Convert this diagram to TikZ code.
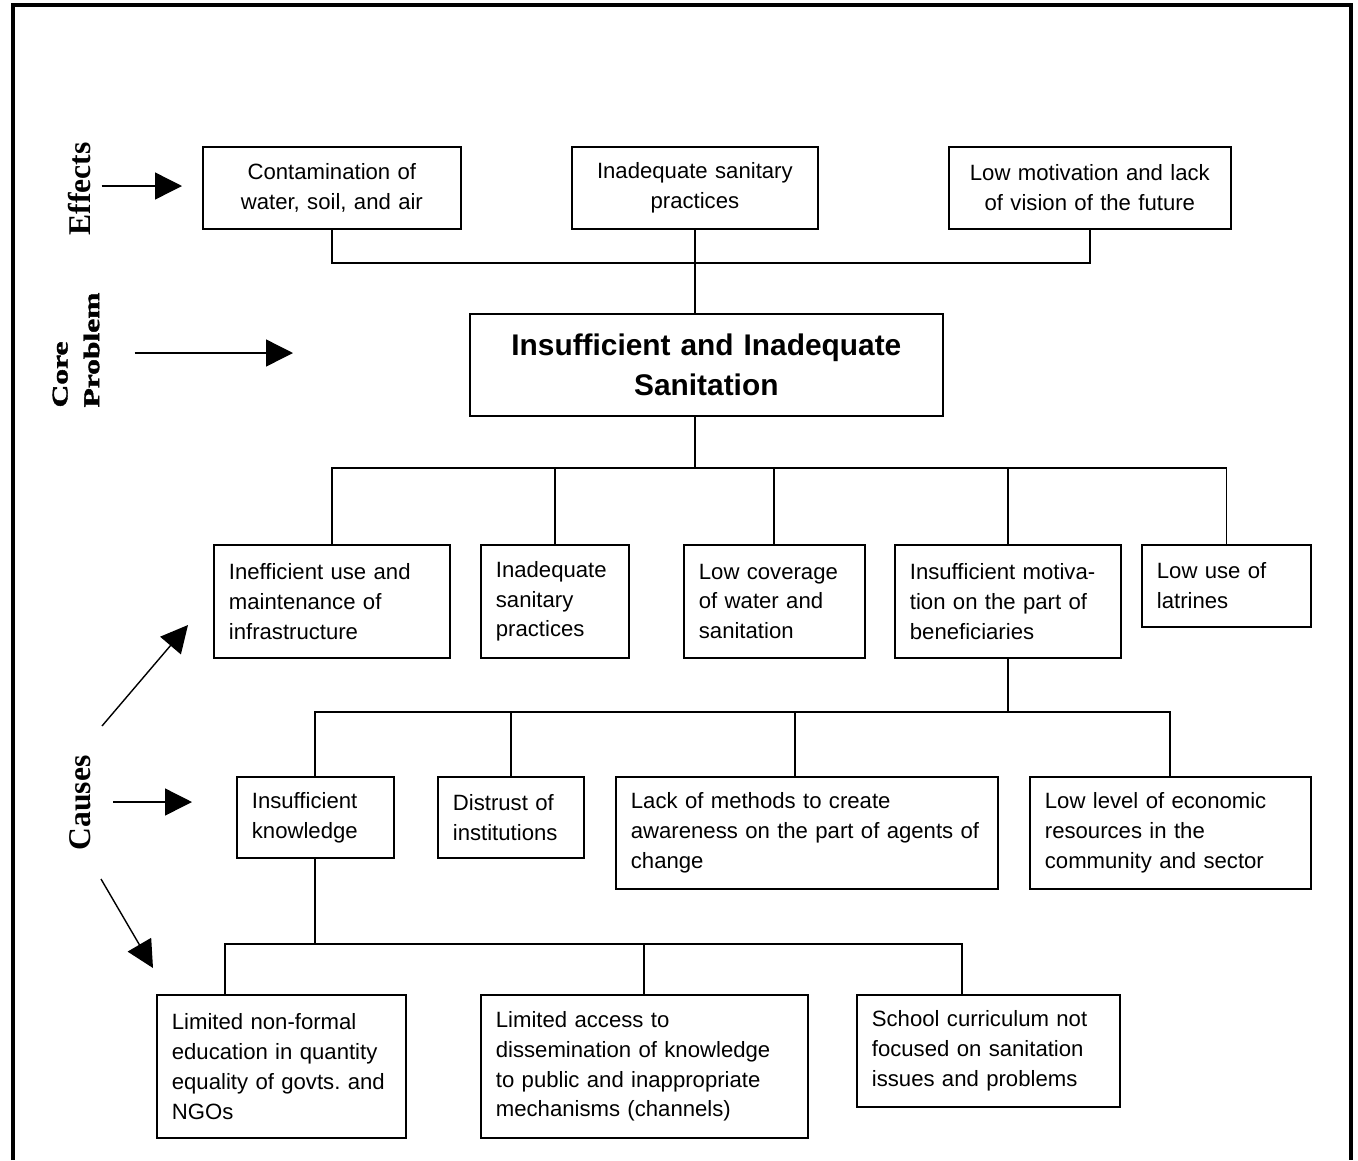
\documentclass[tikz,border=0pt]{standalone}
\usepackage{graphicx}
\usepackage{fontspec}
\setmainfont{Liberation Sans}
\newfontfamily\sidefont{Liberation Serif}
\newfontfamily\heavyfont{Liberation Serif}[BoldFeatures={FakeBold=1.6}]
\usetikzlibrary{arrows.meta}
\newcommand{\widen}[1]{\scalebox{1.4}[1]{#1}}
\frenchspacing

\begin{document}
\begin{tikzpicture}[x=0.02cm, y=-0.02cm,
    box/.style={draw, line width=1pt, anchor=north west, inner xsep=0.3cm, inner ysep=0pt,
      align=left, font=\fontsize{12.6}{17}\selectfont},
    midbox/.style={box, align=center},
    side/.style={rotate=90, inner sep=0.2cm, font=\sidefont\bfseries\fontsize{18}{20}\selectfont},
    pointer/.style={line width=0.8pt, -{Triangle[length=0.54cm, width=0.54cm]}},
    link/.style={line width=1pt}]
  \useasboundingbox (0,0) rectangle (1358,1160);
  \draw[line width=2.3pt] (13,1160) -- (13,5) -- (1351,5) -- (1351,1160);

  % effects
  \node[midbox, text width=4.56cm, minimum height=1.64cm] (e1) at (202,146) {Contamination of\\water, soil, and air};
  \node[midbox, text width=4.32cm, minimum height=1.64cm] (e2) at (571,146) {Inadequate sanitary\\practices};
  \node[midbox, text width=5.04cm, minimum height=1.64cm] (e3) at (948,146) {Low motivation and lack\\of vision of the future};

  % core problem
  \node[midbox, text width=8.86cm, minimum height=2.04cm, font=\bfseries\fontsize{17}{23}\selectfont] (core) at (469,313) {Insufficient and Inadequate\\Sanitation};

  % causes
  \node[box, text width=4.12cm, minimum height=2.26cm] (c1) at (213,544) {Inefficient use and\\maintenance of\\infrastructure};
  \node[box, text width=2.36cm, minimum height=2.26cm] (c2) at (480,544) {Inadequate\\sanitary\\practices};
  \node[box, text width=3.02cm, minimum height=2.26cm] (c3) at (683,544) {Low coverage\\of water and\\sanitation};
  \node[box, text width=3.92cm, minimum height=2.26cm] (c4) at (894,544) {Insufficient motiva-\\tion on the part of\\beneficiaries};
  \node[box, text width=2.78cm, minimum height=1.64cm] (c5) at (1141,544) {Low use of\\latrines};

  \node[box, text width=2.54cm, minimum height=1.62cm] (d1) at (236,776) {Insufficient\\knowledge};
  \node[box, text width=2.32cm, minimum height=1.62cm] (d2) at (437,776) {Distrust of\\institutions};
  \node[box, text width=7.04cm, minimum height=2.24cm] (d3) at (615,776) {Lack of methods to create\\awareness on the part of agents of\\change};
  \node[box, text width=5.02cm, minimum height=2.24cm] (d4) at (1029,776) {Low level of economic\\resources in the\\community and sector};

  \node[box, text width=4.38cm, minimum height=2.86cm] (f1) at (156,994) {Limited non-formal\\education in quantity\\equality of govts. and\\NGOs};
  \node[box, text width=5.94cm, minimum height=2.86cm] (f2) at (480,994) {Limited access to\\dissemination of knowledge\\to public and inappropriate\\mechanisms (channels)};
  \node[box, text width=4.66cm, minimum height=2.24cm] (f3) at (856,994) {School curriculum not\\focused on sanitation\\issues and problems};

  % side labels
  \node[side] (effects) at (80,189) {Effects};
  \node[side, align=left, font=\heavyfont\bfseries\fontsize{12.8}{18}\selectfont] (problem) at (76,350) {\widen{Core}\\\widen{Problem}};
  \node[side] (causes) at (80,803) {Causes};

  \coordinate (efftip) at (182,186);
  \coordinate (coretip) at (293,353);
  \coordinate (causetip) at (192,802);
  \coordinate (upstart) at (102,726);
  \coordinate (uptip) at (188,625);
  \coordinate (downstart) at (101,879);
  \coordinate (downtip) at (153,968);
  \draw[pointer] (effects.south |- efftip) -- (efftip);
  \draw[pointer, shorten <=0.5cm] (problem.south |- coretip) -- (coretip);
  \draw[pointer, shorten <=0.24cm] (causes.south |- causetip) -- (causetip);
  \draw[pointer] (upstart) -- (uptip);
  \draw[pointer] (downstart) -- (downtip);

  % tree lines
  \coordinate (effbus) at (0,263);
  \coordinate (causebus) at (0,468);
  \coordinate (knowbus) at (0,712);
  \coordinate (infobus) at (0,944);
  \draw[link] (e1.south) |- (e3.south |- effbus) -- (e3.south);
  \draw[link] (e2.south) -- (e2.south |- core.north);
  \draw[link] (core.south -| e2.south) -- (causebus -| e2.south);
  \draw[link] (c1.north) |- (c5.north |- causebus) -- (c5.north);
  \foreach \n in {c2,c3,c4}
    \draw[link] (\n.north) -- (\n.north |- causebus);
  \draw[link] (c4.south) -- (c4.south |- knowbus);
  \coordinate (d3top) at ([xshift=-0.24cm]d3.north);
  \draw[link] (d1.north) |- (d4.north |- knowbus) -- (d4.north);
  \draw[link] (d2.north) -- (d2.north |- knowbus);
  \draw[link] (d3top) -- (d3top |- knowbus);
  \draw[link] (d1.south) -- (d1.south |- infobus);
  \coordinate (f1top) at ([xshift=-1.12cm]f1.north);
  \coordinate (f3top) at ([xshift=-0.52cm]f3.north);
  \draw[link] (f1top) |- (f3top |- infobus) -- (f3top);
  \draw[link] (f2.north) -- (f2.north |- infobus);
\end{tikzpicture}
\end{document}
